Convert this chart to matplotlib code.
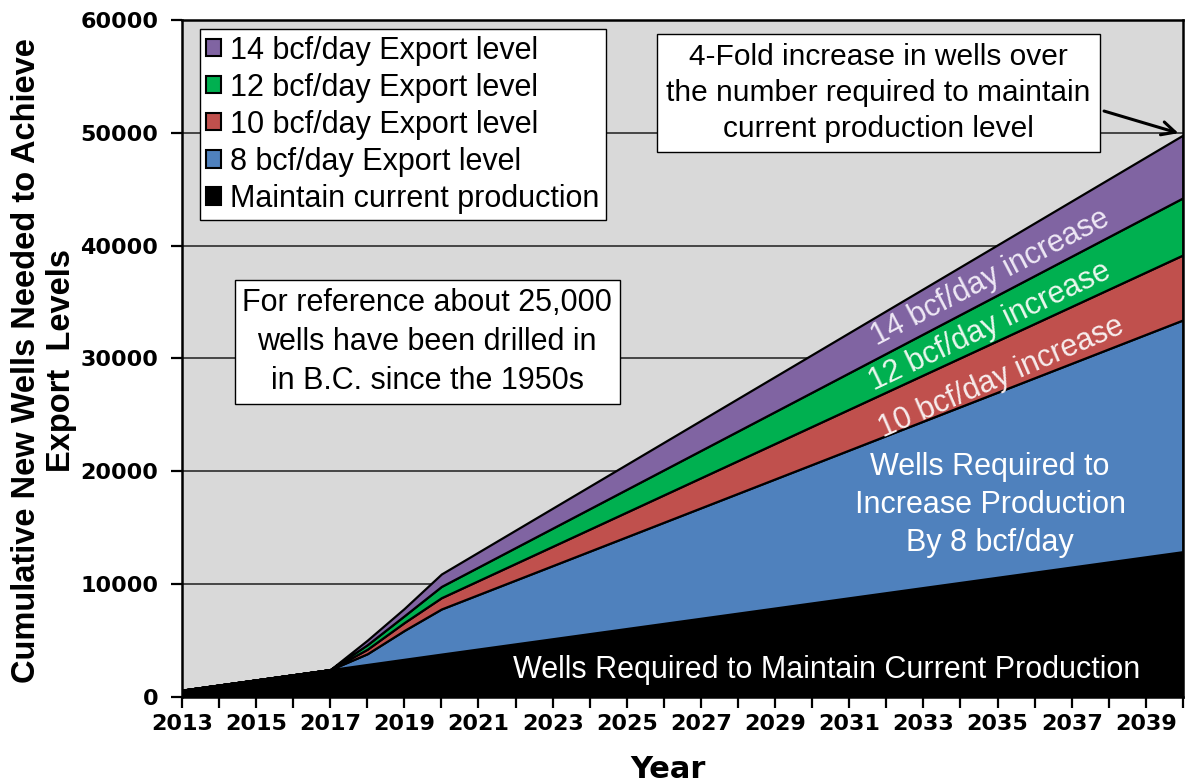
import numpy as np
import matplotlib
matplotlib.use("Agg")
import matplotlib.pyplot as plt
from matplotlib.patches import Patch

# breakpoint years (segments between them are straight)
years = [2013, 2017, 2018, 2019, 2020, 2040]

# stacked increments, wells
maintain = [600, 2420, 2880, 3340, 3800, 12880]
export_8 = [0, 0, 950, 2560, 4000, 20540]
export_10 = [0, 0, 400, 700, 1000, 5760]
export_12 = [0, 0, 400, 600, 1000, 5060]
export_14 = [0, 0, 400, 650, 1100, 5560]

series = [maintain, export_8, export_10, export_12, export_14]
colors = ["#000000", "#4F81BD", "#C0504D", "#00B050", "#8064A2"]
legend_labels = ["Maintain current production", "8 bcf/day Export level",
                 "10 bcf/day Export level", "12 bcf/day Export level",
                 "14 bcf/day Export level"]

tick_years = list(range(2013, 2041))
ylim_max = 60000

plt.rcParams["font.family"] = ["Liberation Sans", "DejaVu Sans"]

fig = plt.figure(figsize=(11.87, 7.84), dpi=100)
ax = fig.add_axes([0.1532, 0.111, 0.8434, 0.8635])
ax.set_facecolor("#D9D9D9")

ax.stackplot(years, *series, colors=colors, edgecolor="black",
             linewidth=1.6, zorder=2)

ax.set_xlim(2013, 2040)
ax.set_ylim(0, ylim_max)
ax.set_yticks(range(0, ylim_max + 1, 10000))
ax.yaxis.grid(True, color="#3A3A3A", linewidth=1.3, zorder=1)
ax.set_axisbelow(True)

ax.set_xticks(tick_years)
ax.set_xticklabels([str(y) if (y - 2013) % 2 == 0 else "" for y in tick_years])
ax.tick_params(axis="both", direction="out", length=8, width=1.6)
ax.tick_params(axis="y", pad=9)
ax.tick_params(axis="x", pad=4)
for lab in ax.get_xticklabels() + ax.get_yticklabels():
    lab.set_fontfamily("DejaVu Sans")
    lab.set_fontweight("bold")
    lab.set_fontsize(16)
for s in ax.spines.values():
    s.set_linewidth(1.8)
    s.set_color("black")

ax.set_xlabel("Year", fontsize=22, fontweight="bold", family="DejaVu Sans")
ax.xaxis.set_label_coords(0.486, -0.085)
fig.text(0.037, 0.54, "Cumulative New Wells Needed to Achieve\nExport  Levels",
         rotation=90, ha="center", va="center", multialignment="center",
         fontsize=23.5, fontweight="bold", linespacing=1.15)

handles = [Patch(facecolor=c, edgecolor="black", linewidth=1.5) for c in colors]
leg = ax.legend(handles[::-1], legend_labels[::-1], loc="upper left",
                bbox_to_anchor=(0.018, 0.986), fontsize=22, frameon=True,
                fancybox=False, framealpha=1, edgecolor="black",
                handlelength=0.5, handleheight=0.5, handletextpad=0.3,
                labelspacing=0.23, borderpad=0.2, borderaxespad=0)
leg.get_frame().set_linewidth(1.0)
leg.set_zorder(5)

ax.text(0.245, 0.524, "For reference about 25,000\nwells have been drilled in\nin B.C. since the 1950s",
        transform=ax.transAxes, ha="center", va="center", fontsize=22,
        linespacing=1.4, zorder=5,
        bbox=dict(boxstyle="square,pad=0.25", facecolor="white",
                  edgecolor="black", linewidth=1.0))
ax.text(0.696, 0.892, "4-Fold increase in wells over\nthe number required to maintain\ncurrent production level",
        transform=ax.transAxes, ha="center", va="center", fontsize=21.5,
        linespacing=1.36, zorder=5,
        bbox=dict(boxstyle="square,pad=0.3", facecolor="white",
                  edgecolor="black", linewidth=1.0))
ax.annotate("", xy=(2039.95, 49900), xytext=(2037.8, 52000),
            arrowprops=dict(arrowstyle="->", color="black", lw=2.2,
                            mutation_scale=24), zorder=6)

ax.text(2030.4, 2400, "Wells Required to Maintain Current Production",
        ha="center", va="center", color="white", fontsize=22, zorder=4)
ax.text(2034.8, 17000, "Wells Required to\nIncrease Production\nBy 8 bcf/day",
        ha="center", va="center", color="white", fontsize=22,
        linespacing=1.36, zorder=4)
band_text = [("10 bcf/day increase", 2035.1, 28300, 23.5, "#F7EDED"),
             ("12 bcf/day increase", 2034.8, 32800, 25.5, "#EAF7EE"),
             ("14 bcf/day increase", 2034.8, 37200, 27.5, "#EEE8F5")]
for txt, xv, yv, rot, tc in band_text:
    ax.text(xv, yv, txt, ha="center", va="center", color=tc,
            fontsize=22, rotation=rot, rotation_mode="anchor", zorder=4)

fig.savefig("out.png", dpi=100)
